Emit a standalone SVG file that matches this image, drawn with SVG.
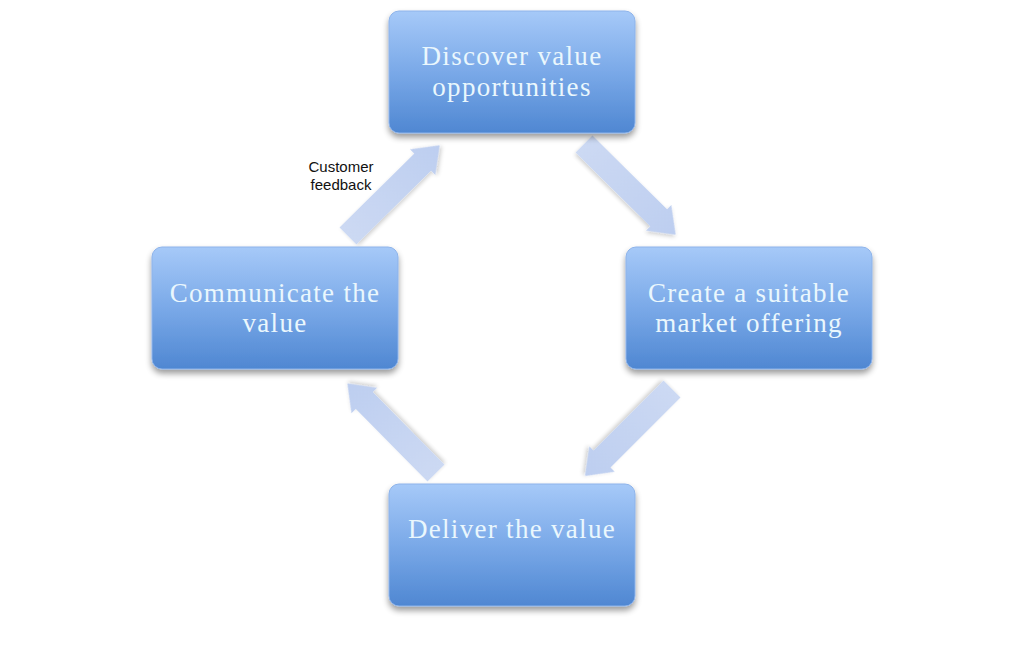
<svg xmlns="http://www.w3.org/2000/svg" width="1024" height="651" viewBox="0 0 1024 651">
  <style>
    .box { fill: url(#boxGrad); stroke: #8db3ea; stroke-width: 1; filter: url(#shadow); }
    .label { font-family: "Liberation Serif", "Times New Roman", serif; font-size: 27px; fill: #eaf7fd; text-anchor: middle; letter-spacing: 1.3px; }
    .arrow { fill: url(#arrowGrad); filter: url(#ashadow); }
    .note { font-family: "Liberation Sans", Arial, sans-serif; font-size: 15px; fill: #111; text-anchor: middle; }
  </style>
  <defs>
    <linearGradient id="boxGrad" x1="0" y1="0" x2="0" y2="1">
      <stop offset="0" stop-color="#a6c9f8"/>
      <stop offset="0.5" stop-color="#7aa9e8"/>
      <stop offset="1" stop-color="#4f87d2"/>
    </linearGradient>
    <linearGradient id="arrowGrad" x1="0" y1="0" x2="1" y2="0">
      <stop offset="0" stop-color="#ccd9f3"/>
      <stop offset="1" stop-color="#bdcef0"/>
    </linearGradient>
    <filter id="shadow" x="-10%" y="-10%" width="120%" height="130%">
      <feGaussianBlur in="SourceAlpha" stdDeviation="3"/>
      <feOffset dx="0" dy="4" result="b"/>
      <feComponentTransfer><feFuncA type="linear" slope="0.4"/></feComponentTransfer>
      <feMerge><feMergeNode/><feMergeNode in="SourceGraphic"/></feMerge>
    </filter>
    <filter id="ashadow" x="-20%" y="-50%" width="140%" height="200%">
      <feGaussianBlur in="SourceAlpha" stdDeviation="2"/>
      <feOffset dx="1" dy="2" result="b"/>
      <feComponentTransfer><feFuncA type="linear" slope="0.2"/></feComponentTransfer>
      <feMerge><feMergeNode/><feMergeNode in="SourceGraphic"/></feMerge>
    </filter>
  </defs>
  <rect width="1024" height="651" fill="#ffffff"/>

  <g id="connectors">
    <path class="arrow" transform="translate(348,236) rotate(-44.7)" d="M0,-12 L105,-12 L105,-18 L129,0 L105,18 L105,12 L0,12 Z"/>
    <path class="arrow" transform="translate(584,144) rotate(44.7)" d="M0,-12 L105,-12 L105,-18 L129,0 L105,18 L105,12 L0,12 Z"/>
    <path class="arrow" transform="translate(672,389) rotate(135)" d="M0,-12 L99,-12 L99,-18 L123,0 L99,18 L99,12 L0,12 Z"/>
    <path class="arrow" transform="translate(436,473) rotate(-134.7)" d="M0,-12 L102,-12 L102,-18 L126,0 L102,18 L102,12 L0,12 Z"/>
    <text class="note" x="341" y="172">Customer</text>
    <text class="note" x="341" y="190">feedback</text>
  </g>

  <g id="node-discover">
    <rect class="box" x="389" y="11" width="246" height="122" rx="10"/>
    <text class="label" x="512" y="65">Discover value</text>
    <text class="label" x="512" y="96">opportunities</text>
  </g>
  <g id="node-create">
    <rect class="box" x="626" y="247" width="246" height="122" rx="10"/>
    <text class="label" x="749" y="302">Create a suitable</text>
    <text class="label" x="749" y="332">market offering</text>
  </g>
  <g id="node-deliver">
    <rect class="box" x="389" y="484" width="246" height="122" rx="10"/>
    <text class="label" x="512" y="538">Deliver the value</text>
  </g>
  <g id="node-communicate">
    <rect class="box" x="152" y="247" width="246" height="122" rx="10"/>
    <text class="label" x="275" y="302">Communicate the</text>
    <text class="label" x="275" y="332">value</text>
  </g>
</svg>
